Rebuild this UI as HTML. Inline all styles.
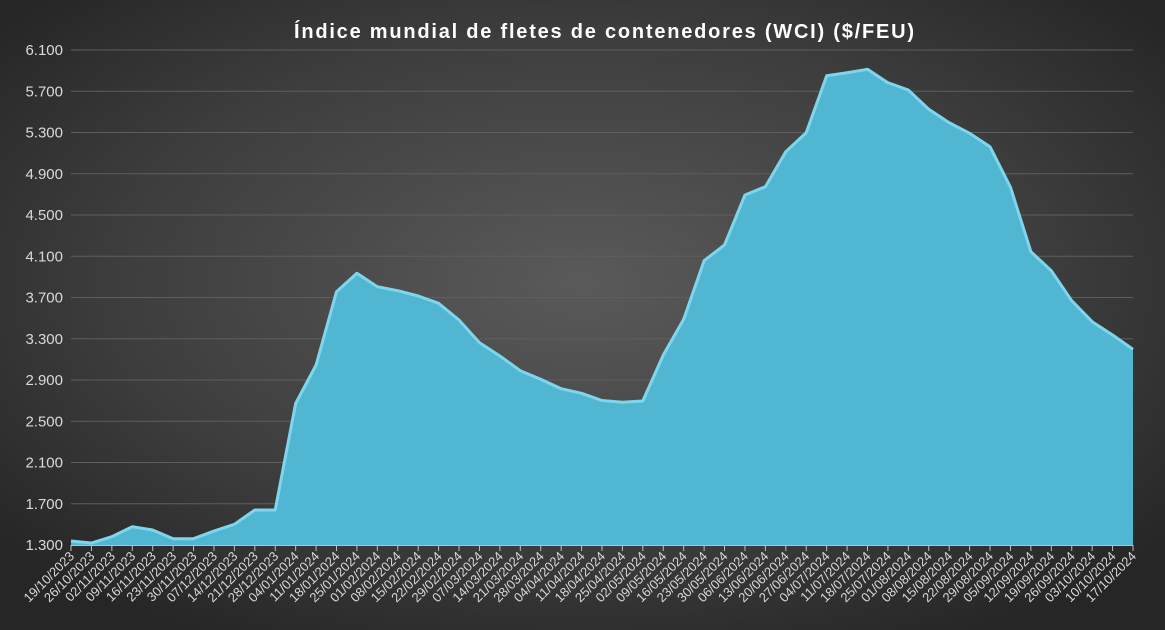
<!DOCTYPE html>
<html><head><meta charset="utf-8"><style>
html,body{margin:0;padding:0;width:1165px;height:630px;overflow:hidden;background:#2a2a2a}
svg{display:block;font-family:"Liberation Sans",sans-serif}
</style></head><body>
<svg id="s" width="1165" height="630" viewBox="0 0 1165 630" xmlns="http://www.w3.org/2000/svg">
<defs>
<radialGradient id="bg" cx="50%" cy="45%" r="65%">
<stop offset="0" stop-color="#5a5a5a"/><stop offset="0.6" stop-color="#3e3e3e"/><stop offset="1" stop-color="#262626"/>
</radialGradient>
</defs>
<rect width="1165" height="630" fill="url(#bg)"/>
<text x="604" y="38" text-anchor="middle" fill="#ffffff" font-size="20" font-weight="bold" textLength="620" lengthAdjust="spacing">Índice mundial de fletes de contenedores (WCI) ($/FEU)</text>
<g id="g"></g>
</svg>
<script>
var ys=[541,543,536.7,526.7,530,538.7,538.7,531,524.3,510,510,403.3,365,291.7,273.3,286.7,290.7,296,303.3,320,342.7,356,370.7,379.3,388.7,393.3,400.5,402.3,401,355,319.3,260.7,245,195,186.7,151.7,132.7,75.7,72.7,69.3,82.7,90,109.3,122.7,133.3,146.7,187.3,251.7,270.7,300.7,321.7,335,349.3];
var labels=["19/10/2023","26/10/2023","02/11/2023","09/11/2023","16/11/2023","23/11/2023","30/11/2023","07/12/2023","14/12/2023","21/12/2023","28/12/2023","04/01/2024","11/01/2024","18/01/2024","25/01/2024","01/02/2024","08/02/2024","15/02/2024","22/02/2024","29/02/2024","07/03/2024","14/03/2024","21/03/2024","28/03/2024","04/04/2024","11/04/2024","18/04/2024","25/04/2024","02/05/2024","09/05/2024","16/05/2024","23/05/2024","30/05/2024","06/06/2024","13/06/2024","20/06/2024","27/06/2024","04/07/2024","11/07/2024","18/07/2024","25/07/2024","01/08/2024","08/08/2024","15/08/2024","22/08/2024","29/08/2024","05/09/2024","12/09/2024","19/09/2024","26/09/2024","03/10/2024","10/10/2024","17/10/2024"];
var x0=71,x1=1133,dx=(x1-x0)/52,h='';
for(var k=0;k<=12;k++){var v=1300+400*k,y=545-k*41.25;
 if(k>0)h+='<line x1="71" x2="1133" y1="'+y+'" y2="'+y+'" stroke="#5e5e5e" stroke-width="1"/>';
 h+='<text x="63" y="'+(y+5)+'" text-anchor="end" fill="#d9d9d9" font-size="15">'+(v/1000).toFixed(3)+'</text>';}
var pts=[];for(var i=0;i<53;i++)pts.push((x0+i*dx).toFixed(1)+','+ys[i]);
h+='<polygon points="'+x0+',545 '+pts.join(' ')+' '+x1+',545" fill="#51b6d1"/>';
h+='<polyline points="'+pts.join(' ')+'" fill="none" stroke="#7fd6ec" stroke-width="3" stroke-linejoin="round"/>';
h+='<line x1="71" x2="1133" y1="545.5" y2="545.5" stroke="#bfbfbf" stroke-width="1"/>';
for(var i=0;i<53;i++){var x=x0+i*dx;
 h+='<line x1="'+x+'" x2="'+x+'" y1="545" y2="551" stroke="#bfbfbf"/>';
 h+='<text transform="translate('+(x+4)+',557) rotate(-45)" text-anchor="end" fill="#d9d9d9" font-size="13">'+labels[i]+'</text>';}
document.getElementById('g').innerHTML=h;
</script>
</body></html>
